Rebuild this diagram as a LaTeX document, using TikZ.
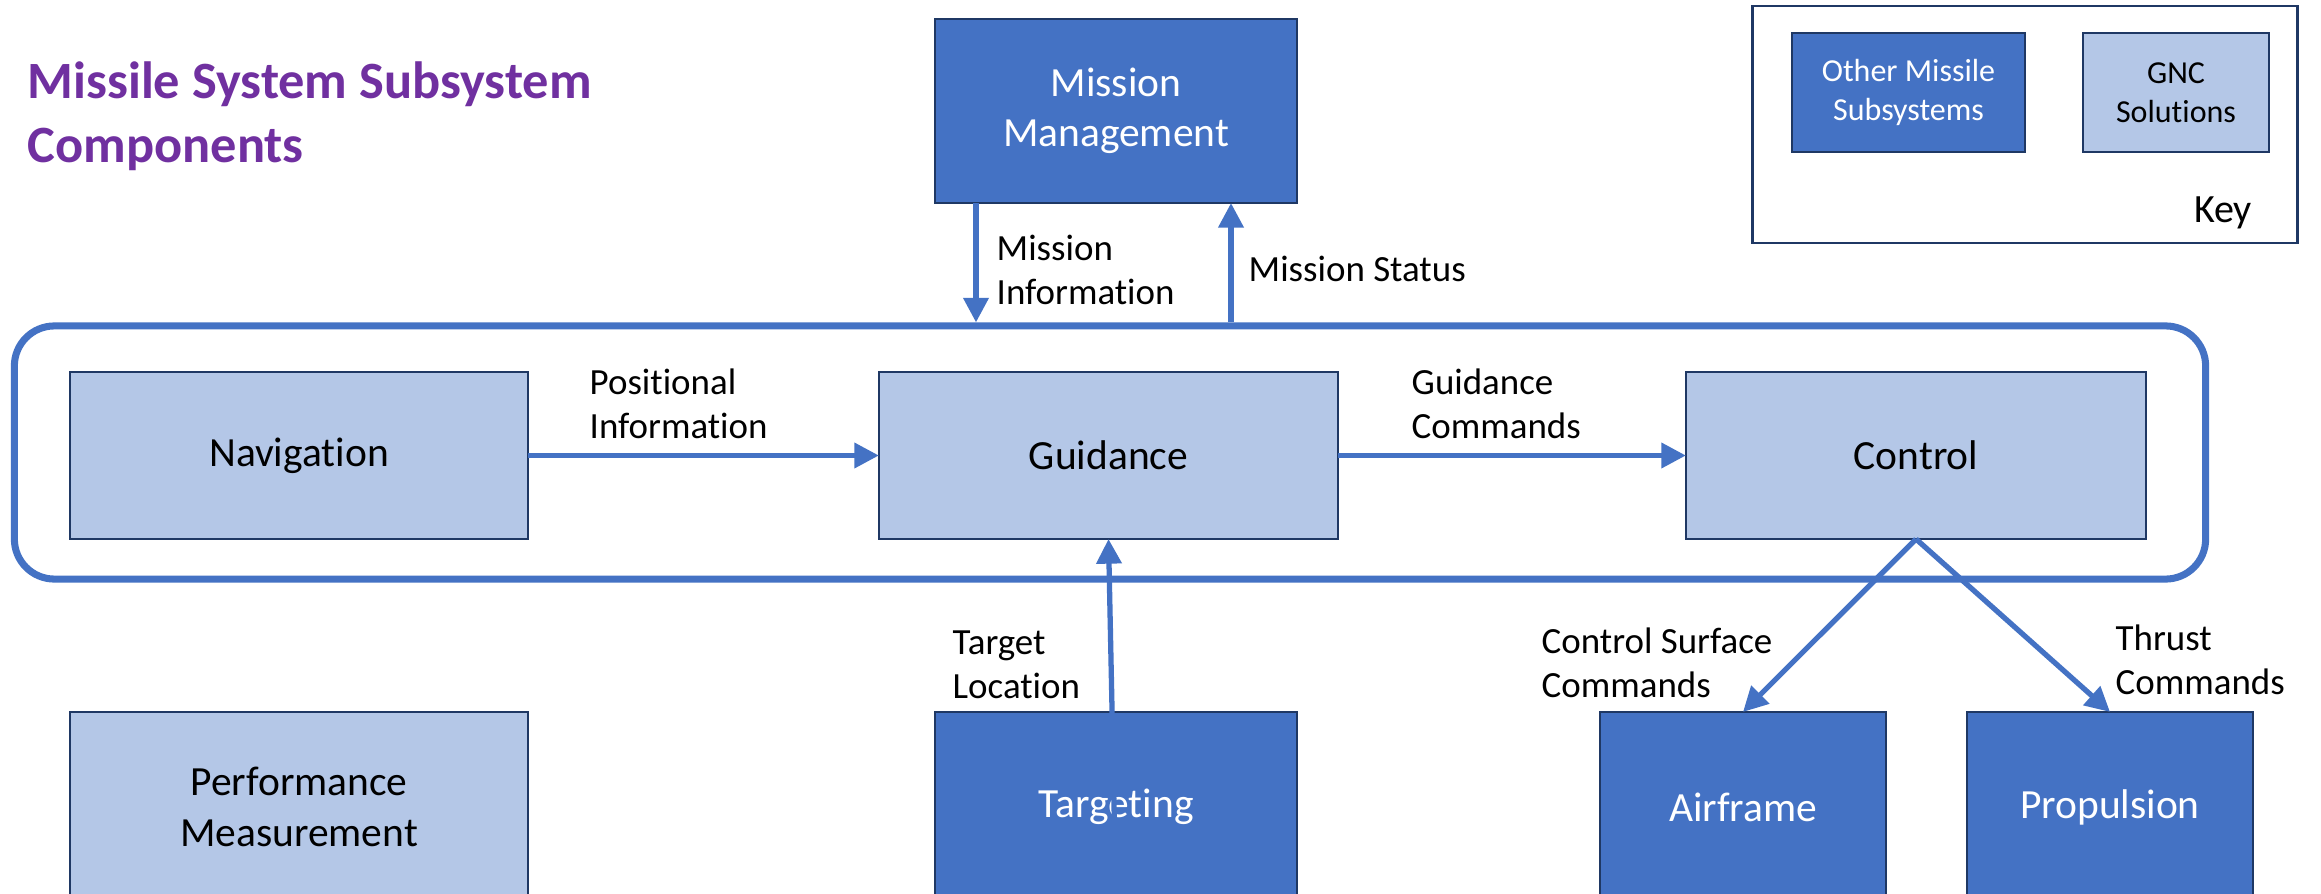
\documentclass[tikz,border=0pt]{standalone}
\usepackage{fontspec}
\setmainfont{Carlito}[Ligatures={NoCommon}]
\usetikzlibrary{arrows.meta}
\definecolor{darkblue}{HTML}{4472C4}
\definecolor{lightblue}{HTML}{B4C7E7}
\definecolor{boxline}{HTML}{1F3864}
\definecolor{connblue}{HTML}{4472C4}
\definecolor{titlepurple}{HTML}{7030A0}
\tikzset{
  box/.style={draw=boxline, line width=0.6pt, inner sep=0pt, outer sep=0pt, align=center,
    font=\fontsize{11.8}{14.3}\selectfont},
  lightbox/.style={box, fill=lightblue, text=black},
  darkbox/.style={box, fill=darkblue, text=white},
  keyfont/.style={font=\fontsize{9.1}{11}\selectfont},
  conn/.style={draw=connblue, line width=1.5pt, -{Triangle[width=7pt,length=7pt]}},
  lbl/.style={inner sep=0pt, anchor=west, align=left, font=\fontsize{10.5}{12.5}\selectfont},
  titlestyle/.style={inner sep=0pt, anchor=west, align=left, text=titlepurple,
    font=\fontsize{14.9}{18.2}\selectfont\bfseries}
}
\begin{document}
\begin{tikzpicture}[x=0.01cm,y=-0.01cm]
\useasboundingbox (0,0) rectangle (2321,894);
\clip (0,0) rectangle (2321,894);
\fill[white] (0,0) rectangle (2321,894);

% title
\node[titlestyle] (ttl) at (27,116) {Missile System Subsystem\\Components};

% mission management
\node[darkbox, minimum width=3.62cm, minimum height=1.84cm] (mm) at (1116,111) {Mission\\Management};

% key
\node[draw=boxline, line width=0.8pt, minimum width=5.44cm, minimum height=2.37cm, inner sep=0pt] (key) at (2025,124.5) {};
\node[darkbox, keyfont, minimum width=2.33cm, minimum height=1.19cm] (oth) at (1908.5,92.5) {Other Missile\\Subsystems};
\node[lightbox, keyfont, minimum width=1.86cm, minimum height=1.19cm] (gncs) at (2176,92.5) {GNC\\Solutions};
\node[inner sep=0pt, font=\fontsize{11.4}{13}\selectfont] (keylbl) at (2223,213) {Key};

% GNC container
\node[draw=connblue, line width=2pt, rounded corners=0.4cm, minimum width=21.9cm, minimum height=2.53cm, inner sep=0pt] (gnc) at (1110,452.5) {};

% GNC blocks
\node[lightbox, minimum width=4.58cm, minimum height=1.67cm] (nav) at (299,455.5) {Navigation};
\node[lightbox, minimum width=4.59cm, minimum height=1.67cm] (guid) at (1108.5,455.5) {Guidance};
\node[lightbox, minimum width=4.60cm, minimum height=1.67cm] (ctrl) at (1916,455.5) {Control};

% bottom blocks
\node[lightbox, minimum width=4.58cm, minimum height=1.90cm] (perf) at (299,807) {Performance\\Measurement};
\node[darkbox, minimum width=3.62cm, minimum height=1.90cm] (tgt) at (1116,807) {Targeting};
\node[darkbox, minimum width=2.86cm, minimum height=1.90cm] (air) at (1743,807) {Airframe};
\node[darkbox, minimum width=2.86cm, minimum height=1.90cm] (prop) at (2110,807) {Propulsion};

% connectors
\coordinate (miX) at (976,0);
\coordinate (msX) at (1231,0);
\draw[conn] (mm.south -| miX) -- (gnc.north -| miX);
\draw[conn] (gnc.north -| msX) -- (mm.south -| msX);
\draw[conn] (nav) -- (guid);
\draw[conn] (guid) -- (ctrl);
\draw[conn] (tgt.south) -- (guid.south);
\draw[conn] (ctrl.south) -- (air.north);
\draw[conn] (ctrl.south) -- (prop.north);

% labels
\node[lbl] (lmi) at (996,270) {Mission\\Information};
\node[lbl] (lms) at (1248,269) {Mission Status};
\node[lbl] (lpi) at (589,404) {Positional\\Information};
\node[lbl] (lgc) at (1411,404) {Guidance\\Commands};
\node[lbl] (ltl) at (952,665) {Target\\Location};
\node[lbl] (lcs) at (1541,663) {Control Surface\\Commands};
\node[lbl] (ltc) at (2115,660) {Thrust\\Commands};
\end{tikzpicture}
\end{document}
